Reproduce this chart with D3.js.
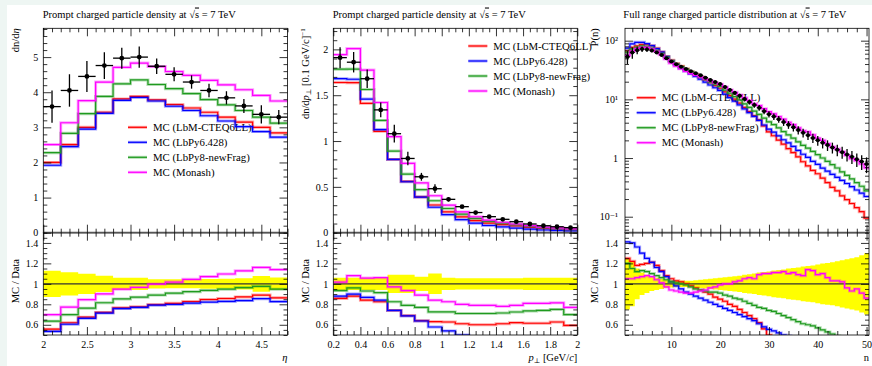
<!DOCTYPE html>
<html><head><meta charset="utf-8">
<script src="https://cdn.jsdelivr.net/npm/d3@7"></script>
<style>
body{margin:0;background:#eef6f3;overflow:hidden}
svg{display:block}
svg text{font-family:"Liberation Serif","DejaVu Serif",serif !important;}
</style>
</head><body>
<svg id="c" width="872" height="366"></svg>
<script>
// ---------------- DATA ----------------
const seriesNames = ["MC (LbM-CTEQ6LL)", "MC (LbPy6.428)", "MC (LbPy8-newFrag)", "MC (Monash)"];
const seriesColors = ["#ff0000", "#0000ff", "#1f9a1f", "#ff00ff"];

// Panel 1: dn/deta
const etaEdges = [2.0, 2.2, 2.4, 2.6, 2.8, 3.0, 3.2, 3.4, 3.6, 3.8, 4.0, 4.2, 4.4, 4.6, 4.8];
const etaData = [3.59, 4.05, 4.45, 4.76, 4.97, 5.0, 4.74, 4.51, 4.29, 4.05, 3.84, 3.61, 3.37, 3.29];
const etaRelErr = [0.128, 0.114, 0.099, 0.08, 0.06, 0.06, 0.046, 0.044, 0.044, 0.047, 0.049, 0.055, 0.077, 0.061];
const etaLbM = [2.0, 2.51, 3.0, 3.43, 3.81, 3.88, 3.78, 3.65, 3.55, 3.43, 3.29, 3.15, 3.0, 2.84];
const etaPy6 = [1.92, 2.45, 2.95, 3.4, 3.77, 3.85, 3.75, 3.6, 3.48, 3.33, 3.18, 3.02, 2.88, 2.72];
const etaPy8 = [2.28, 2.83, 3.39, 3.88, 4.24, 4.35, 4.22, 4.1, 3.96, 3.79, 3.64, 3.48, 3.29, 3.12];
const etaMonash = [2.51, 3.13, 3.76, 4.29, 4.71, 4.83, 4.73, 4.59, 4.48, 4.34, 4.21, 4.07, 3.91, 3.75];

// Panel 2: dn/dpT
const ptEdges = [0.2, 0.3, 0.4, 0.5, 0.6, 0.7, 0.8, 0.9, 1.0, 1.1, 1.2, 1.3, 1.4, 1.5, 1.6, 1.7, 1.8, 1.9, 2.0];
const ptData = [1.91, 1.86, 1.68, 1.34, 1.08, 0.81, 0.61, 0.48, 0.364, 0.284, 0.22, 0.175, 0.146, 0.12, 0.095, 0.076, 0.065, 0.055];
const ptRelErr = [0.06, 0.06, 0.06, 0.06, 0.09, 0.09, 0.07, 0.1, 0.06, 0.055, 0.055, 0.055, 0.055, 0.055, 0.06, 0.06, 0.06, 0.06];
// MC / Data ratios
const ptRatioLbM = [0.858, 0.88, 0.84, 0.825, 0.74, 0.69, 0.64, 0.63, 0.627, 0.61, 0.60, 0.60, 0.61, 0.62, 0.615, 0.615, 0.627, 0.594];
const ptRatioPy6 = [0.88, 0.90, 0.868, 0.84, 0.74, 0.686, 0.637, 0.578, 0.54, 0.50, 0.47, 0.45, 0.43, 0.42, 0.40, 0.39, 0.38, 0.37];
const ptRatioPy8 = [0.934, 0.96, 0.93, 0.914, 0.825, 0.79, 0.77, 0.726, 0.726, 0.71, 0.71, 0.71, 0.715, 0.725, 0.735, 0.74, 0.75, 0.70];
const ptRatioMonash = [1.017, 1.08, 1.056, 1.06, 0.97, 0.934, 0.89, 0.84, 0.825, 0.80, 0.79, 0.79, 0.78, 0.79, 0.81, 0.81, 0.815, 0.77];

// Panel 3: P(n)
const nValues = [1,2,3,4,5,6,7,8,9,10,11,12,13,14,15,16,17,18,19,20,21,22,23,24,25,26,27,28,29,30,31,32,33,34,35,36,37,38,39,40,41,42,43,44,45,46,47,48,49,50];
const nData = [53, 63, 69, 72, 71, 68, 63, 57, 50, 44, 39.5, 36, 33, 30.2, 27.9, 25.7, 23.4, 21.4, 19.7, 18.2, 16.2, 14.5, 12.9, 11.5, 10.1, 9.0, 8.0, 7.2, 6.3, 5.6, 5.1, 4.6, 4.1, 3.7, 3.35, 3.0, 2.7, 2.45, 2.2, 2.0, 1.82, 1.66, 1.51, 1.38, 1.26, 1.15, 1.05, 0.95, 0.87, 0.79];
const nRelErr = [0.25, 0.22, 0.15, 0.11, 0.09, 0.07, 0.06, 0.05, 0.04, 0.035, 0.03, 0.03, 0.03, 0.03, 0.035, 0.04, 0.045, 0.05, 0.055, 0.06, 0.065, 0.07, 0.075, 0.08, 0.09, 0.095, 0.10, 0.11, 0.115, 0.12, 0.13, 0.135, 0.14, 0.15, 0.155, 0.16, 0.17, 0.175, 0.18, 0.19, 0.20, 0.205, 0.21, 0.22, 0.23, 0.24, 0.25, 0.26, 0.28, 0.30];
const nRatioLbM = [1.25, 1.22, 1.18, 1.19, 1.20, 1.21, 1.18, 1.13, 1.08, 1.05, 1.03, 1.02, 1.0, 0.98, 0.96, 0.94, 0.92, 0.90, 0.87, 0.85, 0.83, 0.80, 0.78, 0.75, 0.72, 0.69, 0.66, 0.62, 0.56, 0.50, 0.47, 0.44, 0.42, 0.39, 0.37, 0.35, 0.32, 0.30, 0.28, 0.27, 0.25, 0.23, 0.21, 0.20, 0.18, 0.17, 0.16, 0.15, 0.14, 0.12];
const nRatioPy6 = [1.41, 1.40, 1.36, 1.30, 1.25, 1.21, 1.16, 1.12, 1.07, 1.02, 0.98, 0.95, 0.92, 0.90, 0.88, 0.86, 0.84, 0.82, 0.80, 0.78, 0.76, 0.74, 0.72, 0.70, 0.68, 0.66, 0.64, 0.61, 0.58, 0.555, 0.54, 0.52, 0.50, 0.49, 0.47, 0.45, 0.43, 0.42, 0.40, 0.39, 0.37, 0.36, 0.35, 0.34, 0.33, 0.32, 0.31, 0.30, 0.29, 0.28];
const nRatioPy8 = [1.20, 1.15, 1.12, 1.13, 1.12, 1.10, 1.08, 1.06, 1.04, 1.02, 1.01, 1.0, 0.99, 0.97, 0.95, 0.94, 0.93, 0.92, 0.92, 0.91, 0.89, 0.88, 0.86, 0.85, 0.83, 0.81, 0.79, 0.77, 0.76, 0.74, 0.73, 0.71, 0.69, 0.67, 0.65, 0.63, 0.61, 0.60, 0.59, 0.57, 0.55, 0.53, 0.51, 0.49, 0.46, 0.44, 0.42, 0.40, 0.38, 0.35];
const nRatioMonash = [1.05, 1.05, 1.06, 1.07, 1.08, 1.07, 1.04, 1.01, 0.97, 0.94, 0.93, 0.92, 0.91, 0.91, 0.92, 0.93, 0.94, 0.96, 0.97, 0.99, 1.0, 1.0, 1.02, 1.03, 1.05, 1.06, 1.05, 1.09, 1.10, 1.10, 1.11, 1.11, 1.12, 1.10, 1.11, 1.09, 1.08, 1.14, 1.13, 1.09, 1.10, 1.06, 1.03, 1.03, 1.02, 0.96, 0.93, 0.95, 0.91, 0.86];

const titles = ["Prompt charged particle density at ", "Prompt charged particle density at ", "Full range charged particle distribution at "];

// ---------------- DRAWING ----------------
const FONT = "Liberation Serif, DejaVu Serif, serif";
const svg = d3.select("#c");
svg.append("rect").attr("x", 7).attr("y", 5).attr("width", 865).attr("height", 361).attr("fill", "#fff");

const MAIN_TOP = 28.3, MAIN_BOT = 232.7, RAT_BOT = 335;

const mul = (a, b) => a.map((v, i) => v * b[i]);
const nEdges = nValues.map(n => n - 0.5).concat([nValues[nValues.length - 1] + 0.5]);

const panels = [
  {
    x0: 43.3, x1: 287.5, edges: etaEdges, data: etaData, relErr: etaRelErr,
    mc: [etaLbM, etaPy6, etaPy8, etaMonash],
    yMain: d3.scaleLinear().domain([0, 5.82]).range([MAIN_BOT, MAIN_TOP]),
    xMajor: [2, 2.5, 3, 3.5, 4, 4.5], xMinor: d3.range(20, 49).map(v => v / 10), xFmt: d3.format(""),
    yMajor: [0, 1, 2, 3, 4, 5], yMinor: d3.range(0, 30).map(v => v / 5), yFmt: d3.format(""),
    legend: {x: 128, y: 127.3}, title: 0, ylabX: 18.5,
    ylab: (t) => { t.append("tspan").text("dn/d"); t.append("tspan").attr("font-style", "italic").text("η"); },
    xlab: (t) => { t.append("tspan").attr("font-style", "italic").text("η"); },
    labPad: 5, titleX: 42.7
  },
  {
    x0: 333.3, x1: 577.3, edges: ptEdges, data: ptData, relErr: ptRelErr,
    mc: [mul(ptRatioLbM, ptData), mul(ptRatioPy6, ptData), mul(ptRatioPy8, ptData), mul(ptRatioMonash, ptData)],
    yMain: d3.scaleLinear().domain([0, 2.23]).range([MAIN_BOT, MAIN_TOP]),
    xMajor: [0.2, 0.4, 0.6, 0.8, 1, 1.2, 1.4, 1.6, 1.8, 2], xMinor: d3.range(4, 41).map(v => v / 20), xFmt: d3.format(""),
    yMajor: [0, 0.5, 1, 1.5, 2], yMinor: d3.range(0, 23).map(v => v / 10), yFmt: d3.format(""),
    legend: {x: 468.3, y: 46}, title: 1, ylabX: 308.5,
    ylab: (t) => {
      t.append("tspan").text("dn/d");
      t.append("tspan").attr("font-style", "italic").text("p");
      t.append("tspan").attr("font-size", 7).attr("dy", 2).text("⊥");
      t.append("tspan").attr("dy", -2).text(" [0.1 GeV/c]");
      t.append("tspan").attr("font-size", 7).attr("dy", -4).text("−1");
    },
    xlab: (t) => {
      t.append("tspan").attr("font-style", "italic").text("p");
      t.append("tspan").attr("font-size", 7).attr("dy", 2).text("⊥");
      t.append("tspan").attr("dy", -2).text(" [GeV/");
      t.append("tspan").attr("font-style", "italic").text("c");
      t.append("tspan").text("]");
    },
    labPad: 5, titleX: 332.7
  },
  {
    x0: 625, x1: 869, edges: nEdges, data: nData, relErr: nRelErr,
    mc: [mul(nRatioLbM, nData), mul(nRatioPy6, nData), mul(nRatioPy8, nData), mul(nRatioMonash, nData)],
    yMain: d3.scaleLog().domain([0.0534, 162.5]).range([MAIN_BOT, MAIN_TOP]),
    xMajor: [10, 20, 30, 40, 50], xMinor: d3.range(2, 51, 2), xFmt: d3.format(""),
    yMajor: [0.1, 1, 10, 100],
    yMinor: [0.06, 0.07, 0.08, 0.09, 0.2, 0.3, 0.4, 0.5, 0.6, 0.7, 0.8, 0.9, 2, 3, 4, 5, 6, 7, 8, 9, 20, 30, 40, 50, 60, 70, 80, 90].filter(v => v < 162),
    yFmt: (v) => v === 1 ? "1" : (v === 10 ? "10¹" : (v === 100 ? "10²" : "10⁻¹")),
    legend: {x: 636.7, y: 97.7}, title: 2, ylabX: 598,
    ylab: (t) => { t.append("tspan").text("P(n)"); },
    xlab: (t) => { t.append("tspan").text("n"); },
    labPad: 7, titleX: 623.3, log: true
  }
];

const yRatio = d3.scaleLinear().domain([0.5, 1.5]).range([RAT_BOT, MAIN_BOT]);
const ratioMajor = [0.6, 0.8, 1, 1.2, 1.4];
const ratioMinor = d3.range(10, 31).map(v => v / 20);

function axis(g, gen, scale, values, size, fmt, pad) {
  const a = gen(scale).tickValues(values).tickSizeInner(-size).tickSizeOuter(0)
    .tickPadding(pad || 5).tickFormat(fmt || (() => ""));
  g.call(a);
  g.select(".domain").remove();
  g.attr("font-family", FONT).attr("font-size", 10);
  g.selectAll("line").attr("stroke", "#000").attr("stroke-width", 0.8);
  g.selectAll("text").attr("fill", "#000");
}

panels.forEach((p, pi) => {
  const g = svg.append("g");
  const x = d3.scaleLinear().domain([p.edges[0], p.edges[p.edges.length - 1]]).range([p.x0, p.x1]);
  const y = p.yMain;
  const W = p.x1 - p.x0;

  const defs = g.append("defs");
  defs.append("clipPath").attr("id", "cm" + pi).append("rect")
    .attr("x", p.x0).attr("y", MAIN_TOP).attr("width", W).attr("height", MAIN_BOT - MAIN_TOP);
  defs.append("clipPath").attr("id", "cr" + pi).append("rect")
    .attr("x", p.x0).attr("y", MAIN_BOT).attr("width", W).attr("height", RAT_BOT - MAIN_BOT);

  // title
  const tt = g.append("text").attr("x", p.titleX).attr("y", 17.5).attr("font-family", FONT).attr("font-size", 10.5);
  tt.append("tspan").text(titles[p.title] + "√");
  tt.append("tspan").style("text-decoration", "overline").text("s");
  tt.append("tspan").text(" = 7 TeV");

  // legend (drawn beneath curves)
  const lg = g.append("g");
  seriesNames.forEach((nm, i) => {
    const ly = p.legend.y + i * 15;
    lg.append("line").attr("x1", p.legend.x).attr("x2", p.legend.x + 19).attr("y1", ly).attr("y2", ly)
      .attr("stroke", seriesColors[i]).attr("stroke-opacity", 0.35).attr("stroke-width", 3);
    lg.append("line").attr("x1", p.legend.x).attr("x2", p.legend.x + 19).attr("y1", ly).attr("y2", ly)
      .attr("stroke", seriesColors[i]).attr("stroke-width", 1.2);
    lg.append("text").attr("x", p.legend.x + 25).attr("y", ly + 3.6).attr("font-family", FONT)
      .attr("font-size", 10.8).text(nm);
  });

  const histPts = (vals) => {
    const pts = [];
    vals.forEach((v, i) => { pts.push([p.edges[i], v]); pts.push([p.edges[i + 1], v]); });
    return pts;
  };

  // ratio band (yellow)
  const rg = g.append("g").attr("clip-path", "url(#cr" + pi + ")");
  const bandArea = d3.area().x(d => x(d[0])).y0(d => yRatio(1 - d[1])).y1(d => yRatio(1 + d[1]));
  rg.append("path").attr("d", bandArea(histPts(p.relErr))).attr("fill", "#ffff00");
  rg.append("line").attr("x1", p.x0).attr("x2", p.x1).attr("y1", yRatio(1)).attr("y2", yRatio(1))
    .attr("stroke", "#333").attr("stroke-width", 1.3);

  const lineMain = d3.line().x(d => x(d[0])).y(d => y(Math.max(d[1], 1e-3)));
  const lineRatio = d3.line().x(d => x(d[0])).y(d => yRatio(d[1]));

  const mg = g.append("g").attr("clip-path", "url(#cm" + pi + ")");
  p.mc.forEach((vals, si) => {
    const ratio = vals.map((v, i) => v / p.data[i]);
    [[mg, lineMain(histPts(vals))], [rg, lineRatio(histPts(ratio))]].forEach(([grp, d]) => {
      grp.append("path").attr("d", d).attr("fill", "none").attr("stroke", seriesColors[si])
        .attr("stroke-opacity", 0.35).attr("stroke-width", 3);
      grp.append("path").attr("d", d).attr("fill", "none").attr("stroke", seriesColors[si])
        .attr("stroke-width", 1.2);
    });
  });

  // data points
  const dg = g.append("g");
  p.data.forEach((v, i) => {
    const cx = x((p.edges[i] + p.edges[i + 1]) / 2);
    const e = v * p.relErr[i];
    dg.append("line").attr("x1", x(p.edges[i])).attr("x2", x(p.edges[i + 1])).attr("y1", y(v)).attr("y2", y(v))
      .attr("stroke", "#000").attr("stroke-width", 1.3);
    dg.append("line").attr("x1", cx).attr("x2", cx).attr("y1", y(v - e)).attr("y2", y(v + e))
      .attr("stroke", "#000").attr("stroke-width", 1.3);
    dg.append("circle").attr("cx", cx).attr("cy", y(v)).attr("r", p.log ? 2 : 2.4).attr("fill", "#000");
  });

  // frames
  g.append("rect").attr("x", p.x0).attr("y", MAIN_TOP).attr("width", W).attr("height", MAIN_BOT - MAIN_TOP)
    .attr("fill", "none").attr("stroke", "#000").attr("stroke-width", 0.8);
  g.append("rect").attr("x", p.x0).attr("y", MAIN_BOT).attr("width", W).attr("height", RAT_BOT - MAIN_BOT)
    .attr("fill", "none").attr("stroke", "#000").attr("stroke-width", 0.8);
  g.append("line").attr("x1", p.x0).attr("x2", p.x1).attr("y1", MAIN_BOT).attr("y2", MAIN_BOT)
    .attr("stroke", "#555").attr("stroke-width", 1.8);

  const xMinorOnly = p.xMinor.filter(v => !p.xMajor.some(m => Math.abs(m - v) < 1e-9));
  [[MAIN_TOP, d3.axisTop], [MAIN_BOT, d3.axisBottom], [MAIN_BOT, d3.axisTop], [RAT_BOT, d3.axisBottom]].forEach(([yy, gen], k) => {
    axis(g.append("g").attr("transform", `translate(0,${yy})`), gen, x, p.xMajor, 8, k === 3 ? p.xFmt : null, 6);
    axis(g.append("g").attr("transform", `translate(0,${yy})`), gen, x, xMinorOnly, 4, null);
  });

  const yMinorOnly = p.yMinor.filter(v => !p.yMajor.some(m => Math.abs(m - v) < 1e-9) && v > y.domain()[0] && v < y.domain()[1]);
  const yMaj = p.yMajor.filter(v => v >= y.domain()[0] && v <= y.domain()[1]);
  axis(g.append("g").attr("transform", `translate(${p.x0},0)`), d3.axisLeft, y, yMaj, 8, p.yFmt, p.labPad);
  axis(g.append("g").attr("transform", `translate(${p.x0},0)`), d3.axisLeft, y, yMinorOnly, 4, null);
  axis(g.append("g").attr("transform", `translate(${p.x1},0)`), d3.axisRight, y, yMaj, 8, null);
  axis(g.append("g").attr("transform", `translate(${p.x1},0)`), d3.axisRight, y, yMinorOnly, 4, null);

  const rMinorOnly = ratioMinor.filter(v => !ratioMajor.some(m => Math.abs(m - v) < 1e-9));
  axis(g.append("g").attr("transform", `translate(${p.x0},0)`), d3.axisLeft, yRatio, ratioMajor, 8, d3.format(""), p.labPad);
  axis(g.append("g").attr("transform", `translate(${p.x0},0)`), d3.axisLeft, yRatio, rMinorOnly, 4, null);
  axis(g.append("g").attr("transform", `translate(${p.x1},0)`), d3.axisRight, yRatio, ratioMajor, 8, null);
  axis(g.append("g").attr("transform", `translate(${p.x1},0)`), d3.axisRight, yRatio, rMinorOnly, 4, null);

  const yl = g.append("text").attr("transform", `translate(${p.ylabX},${MAIN_TOP}) rotate(-90)`)
    .attr("text-anchor", "end").attr("font-family", FONT).attr("font-size", 10.5);
  p.ylab(yl);
  g.append("text").attr("transform", `translate(${p.ylabX},259) rotate(-90)`)
    .attr("text-anchor", "end").attr("font-family", FONT).attr("font-size", 10.5).text("MC / Data");
  const xl = g.append("text").attr("x", p.x1).attr("y", 361).attr("text-anchor", "end")
    .attr("font-family", FONT).attr("font-size", 10.5);
  p.xlab(xl);
});
</script>
</body></html>
